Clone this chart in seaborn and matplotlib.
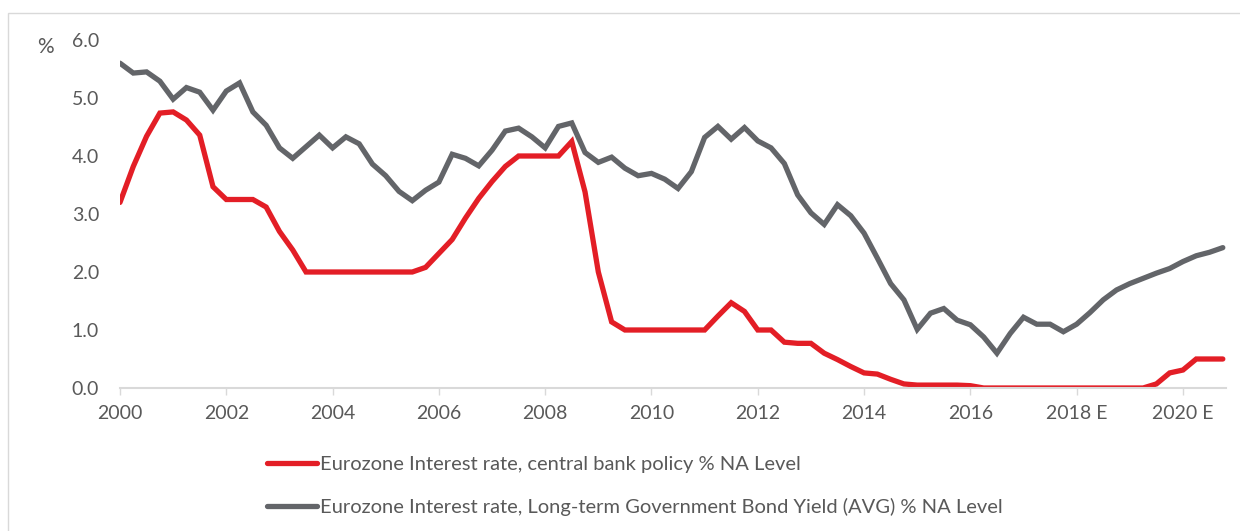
import numpy as np
import pandas as pd
import matplotlib
matplotlib.use("Agg")
import matplotlib.pyplot as plt
import seaborn as sns
from matplotlib.patches import Rectangle

# quarterly observations, 2000 Q1 .. 2020 Q4
quarters = np.arange(2000, 2021, 0.25)

policy_rate = [
    3.20, 3.82, 4.34, 4.74, 4.76, 4.62, 4.36, 3.47, 3.25, 3.25,
    3.25, 3.12, 2.70, 2.38, 2.00, 2.00, 2.00, 2.00, 2.00, 2.00,
    2.00, 2.00, 2.00, 2.08, 2.32, 2.56, 2.93, 3.27, 3.56, 3.82,
    4.00, 4.00, 4.00, 4.00, 4.25, 3.38, 2.00, 1.14, 1.00, 1.00,
    1.00, 1.00, 1.00, 1.00, 1.00, 1.24, 1.47, 1.32, 1.00, 1.00,
    0.79, 0.77, 0.77, 0.60, 0.49, 0.37, 0.26, 0.24, 0.15, 0.07,
    0.05, 0.05, 0.05, 0.05, 0.04, 0.00, 0.00, 0.00, 0.00, 0.00,
    0.00, 0.00, 0.00, 0.00, 0.00, 0.00, 0.00, 0.00, 0.07, 0.26,
    0.31, 0.50, 0.50, 0.50,
]

bond_yield = [
    5.60, 5.43, 5.45, 5.29, 4.98, 5.18, 5.10, 4.79, 5.12, 5.26,
    4.76, 4.53, 4.14, 3.96, 4.16, 4.36, 4.14, 4.33, 4.21, 3.86,
    3.66, 3.39, 3.23, 3.41, 3.55, 4.03, 3.96, 3.83, 4.10, 4.43,
    4.48, 4.33, 4.14, 4.51, 4.57, 4.06, 3.89, 3.98, 3.79, 3.66,
    3.70, 3.60, 3.44, 3.73, 4.32, 4.51, 4.29, 4.49, 4.26, 4.14,
    3.87, 3.33, 3.02, 2.82, 3.16, 2.97, 2.67, 2.24, 1.80, 1.52,
    1.01, 1.29, 1.37, 1.17, 1.09, 0.88, 0.60, 0.94, 1.22, 1.10,
    1.10, 0.97, 1.10, 1.30, 1.52, 1.69, 1.80, 1.89, 1.98, 2.06,
    2.18, 2.28, 2.34, 2.42,
]

series_names = [
    "Eurozone Interest rate, central bank policy % NA Level",
    "Eurozone Interest rate, Long-term Government Bond Yield (AVG) % NA Level",
]
series_colors = ["#e31e26", "#636569"]

tick_years = [2000, 2002, 2004, 2006, 2008, 2010, 2012, 2014, 2016, 2018, 2020]
tick_labels = ["2000", "2002", "2004", "2006", "2008", "2010", "2012", "2014",
               "2016", "2018 E", "2020 E"]
y_ticks = [0, 1, 2, 3, 4, 5, 6]

df = pd.concat([
    pd.DataFrame({"date": quarters, "value": policy_rate, "series": series_names[0]}),
    pd.DataFrame({"date": quarters, "value": bond_yield, "series": series_names[1]}),
])

sns.set_theme(style="white")
plt.rcParams["font.family"] = ["Lato", "DejaVu Sans"]
txt = "#595959"

fig = plt.figure(figsize=(12.4, 5.31), dpi=100)
ax = fig.add_axes([120 / 1240, 1 - 388 / 531, 1106 / 1240, 348 / 531])

sns.lineplot(data=df, x="date", y="value", hue="series", palette=series_colors,
             hue_order=series_names, linewidth=3.8, legend=False, ax=ax,
             solid_capstyle="round", solid_joinstyle="miter")

ax.set_xlim(2000, 2020.81)
ax.set_ylim(0, 6)
ax.set_xticks(tick_years)
ax.set_xticklabels(tick_labels)
ax.set_yticks(y_ticks)
ax.set_yticklabels([f"{v:.1f}" for v in y_ticks])
ax.set_xlabel("")
ax.set_ylabel("")

for s in ["top", "right", "left"]:
    ax.spines[s].set_visible(False)
ax.spines["bottom"].set_color("#d9d9d9")
ax.spines["bottom"].set_linewidth(1.5)

ax.tick_params(axis="x", length=5, width=1, color="#d9d9d9", pad=7,
               labelsize=14, labelcolor=txt, bottom=True)
ax.tick_params(axis="y", length=0, pad=15, labelsize=14, labelcolor=txt)

fig.text(45 / 1240, 1 - 47 / 531, "%", ha="center", va="center", fontsize=15, color=txt)

# legend below the plot
handles = [plt.Line2D([], [], color=c, linewidth=3.8, solid_capstyle="round")
           for c in series_colors]
leg = fig.legend(handles, series_names, loc="upper left",
                 bbox_to_anchor=(267 / 1240, 1 - 456 / 531), frameon=False,
                 fontsize=14.5, handlelength=2.5, handletextpad=0.15,
                 labelspacing=1.23, borderpad=0, borderaxespad=0)
for t in leg.get_texts():
    t.set_color(txt)

# thin frame around the chart
fig.patches.append(Rectangle((8 / 1240, -0.2), 1.2, 0.2 + 1 - 13 / 531,
                             transform=fig.transFigure, fill=False,
                             edgecolor="#d9d9d9", linewidth=1))

fig.savefig("out.png", dpi=100, facecolor="white")
